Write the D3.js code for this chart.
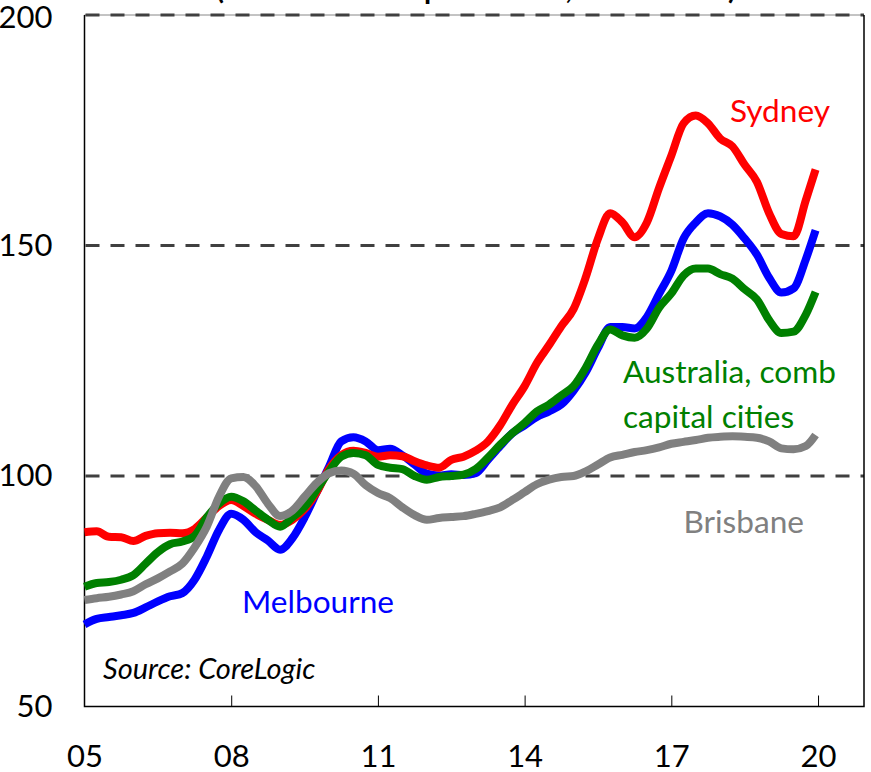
<!DOCTYPE html>
<html>
<head>
<meta charset="utf-8">
<script src="https://cdn.jsdelivr.net/npm/d3@7"></script>
<style>
  html, body { margin: 0; padding: 0; background: #fff; }
  svg { display: block; font-family: Lato, "Open Sans", sans-serif; }
</style>
</head>
<body>
<div id="chart"></div>
<script>
// quarterly observations, decimal years
const dates = [
  2005.00, 2005.25, 2005.50, 2005.75, 2006.00, 2006.25, 2006.50, 2006.75,
  2007.00, 2007.25, 2007.50, 2007.75, 2008.00, 2008.25, 2008.50, 2008.75,
  2009.00, 2009.25, 2009.50, 2009.75, 2010.00, 2010.25, 2010.50, 2010.75,
  2011.00, 2011.25, 2011.50, 2011.75, 2012.00, 2012.25, 2012.50, 2012.75,
  2013.00, 2013.25, 2013.50, 2013.75, 2014.00, 2014.25, 2014.50, 2014.75,
  2015.00, 2015.25, 2015.50, 2015.75, 2016.00, 2016.25, 2016.50, 2016.75,
  2017.00, 2017.25, 2017.50, 2017.75, 2018.00, 2018.25, 2018.50, 2018.75,
  2019.00, 2019.25, 2019.50, 2019.75, 2019.95
];

const sydney = [
  87.8, 88.0, 86.8, 86.7, 85.9, 87.0, 87.6, 87.7,
  87.6, 88.5, 91.0, 93.5, 94.8, 93.5, 91.8, 90.5,
  89.4, 90.5, 92.8, 96.5, 101.5, 104.5, 105.5, 105.0,
  104.2, 104.5, 104.3, 103.2, 102.3, 101.8, 103.5, 104.2,
  105.5, 107.5, 111.0, 115.5, 119.5, 124.5, 128.4, 132.5,
  136.2, 143.1, 151.5, 157.0, 155.0, 151.8, 155.0, 162.5,
  169.5, 176.5, 178.2, 176.5, 173.2, 171.5, 167.5, 163.8,
  157.0, 152.5, 152.0, 159.8, 166.5
];

const melbourne = [
  67.8, 69.0, 69.4, 69.8, 70.3, 71.5, 72.8, 73.9,
  74.6, 77.5, 82.5, 88.3, 91.8, 90.5, 87.8, 86.0,
  84.0, 86.5, 91.0, 96.5, 102.0, 107.5, 108.4, 107.5,
  105.6, 105.9, 104.5, 102.5, 100.5, 100.1, 100.4, 100.2,
  100.6, 103.5, 106.5, 109.3, 111.0, 112.8, 114.0, 115.5,
  118.5, 122.5, 127.8, 132.3, 132.3, 132.0, 134.5, 139.5,
  144.5, 151.5, 155.0, 157.0, 156.3, 154.5, 151.5, 148.0,
  143.0, 139.8, 140.7, 147.0, 153.3
];

const australia = [
  76.0, 76.8, 77.0, 77.5, 78.5, 81.0, 83.5, 85.2,
  85.8, 87.0, 91.0, 94.0, 95.5, 94.5, 92.5, 90.5,
  89.0, 91.0, 93.3, 97.0, 101.0, 104.2, 105.0, 104.5,
  102.4, 101.8, 101.5, 100.0, 99.2, 99.8, 100.0, 100.3,
  101.5, 104.0, 106.8, 109.3, 111.5, 114.0, 115.5, 117.5,
  119.5, 123.5, 128.5, 131.8, 130.5, 130.0, 132.0, 136.5,
  139.6, 143.5, 145.0, 145.0, 143.8, 142.8, 140.5, 138.3,
  133.8, 131.0, 131.3, 135.0, 139.9
];

const brisbane = [
  73.1, 73.5, 73.8, 74.3, 75.0, 76.5, 77.8, 79.3,
  81.0, 84.5, 89.0, 95.5, 99.5, 99.8, 97.8, 94.0,
  91.3, 92.5, 95.5, 98.5, 100.6, 101.2, 100.5, 98.0,
  96.3, 95.2, 93.2, 91.5, 90.5, 90.9, 91.1, 91.3,
  91.8, 92.4, 93.2, 94.8, 96.5, 98.2, 99.2, 99.8,
  100.0, 101.0, 102.5, 104.0, 104.6, 105.2, 105.6, 106.2,
  107.0, 107.4, 107.8, 108.3, 108.5, 108.6, 108.5, 108.3,
  107.5, 106.0, 105.8, 106.5, 108.9
];

const yTicks = [50, 100, 150, 200];
const gridValues = [100, 150, 200];
const xTicks = [2005, 2008, 2011, 2014, 2017, 2020];
const xTickLabels = ["05", "08", "11", "14", "17", "20"];

// drawing order: first is at the bottom
const series = [
  { name: "Melbourne", values: melbourne, color: "#0000ff" },
  { name: "Sydney", values: sydney, color: "#ff0000" },
  { name: "Australia", values: australia, color: "#008000" },
  { name: "Brisbane", values: brisbane, color: "#808080" }
];

const width = 871, height = 772;
const svg = d3.select("#chart").append("svg")
  .attr("width", width)
  .attr("height", height);

const x = d3.scaleLinear().domain([2005, 2020.94]).range([84.5, 864]);
const y = d3.scaleLinear().domain([50, 200]).range([706.5, 15]);

// title, mostly above the visible area as in the source image
svg.append("text")
  .attr("x", 476)
  .attr("y", -1)
  .attr("text-anchor", "middle")
  .style("font-weight", "bold")
  .style("font-size", "29px")
  .text("(Nominal house price index, 2010 = 100)");

// top border (thin) under the 200 grid line
svg.append("line")
  .attr("x1", x.range()[0]).attr("x2", x.range()[1])
  .attr("y1", y(200)).attr("y2", y(200))
  .attr("stroke", "#888").attr("stroke-width", 1);

// dashed horizontal grid lines
svg.append("g")
  .selectAll("line")
  .data(gridValues)
  .enter()
  .append("line")
  .attr("x1", x.range()[0] + 1)
  .attr("x2", x.range()[1])
  .attr("y1", d => y(d))
  .attr("y2", d => y(d))
  .attr("stroke", "#404040")
  .attr("stroke-width", 3)
  .attr("stroke-dasharray", "14,11");

// frame: left, bottom, right
svg.append("path")
  .attr("d", `M${x.range()[0]},${y(200)}V${y(50)}H${x.range()[1]}V${y(200)}`)
  .attr("fill", "none")
  .attr("stroke", "#000")
  .attr("stroke-width", 1.5);

// bottom axis with ticks pointing inward
const xAxis = svg.append("g")
  .attr("transform", `translate(0,${y(50)})`)
  .call(d3.axisBottom(x)
    .tickValues(xTicks)
    .tickSize(-11)
    .tickFormat((d, i) => xTickLabels[i]));
xAxis.select(".domain").remove();
xAxis.selectAll(".tick line")
  .attr("stroke", "#000")
  .attr("stroke-width", 1)
  .filter(d => d === 2005).remove();
xAxis.selectAll(".tick text")
  .attr("y", 0)
  .attr("dy", 0)
  .attr("transform", "translate(0,60)")
  .style("font-family", "Lato, sans-serif")
  .style("font-size", "31px")
  .attr("fill", "#000");

// left axis labels only
const yAxis = svg.append("g")
  .attr("transform", `translate(${x.range()[0]},0)`)
  .call(d3.axisLeft(y).tickValues(yTicks).tickSize(0).tickPadding(32));
yAxis.select(".domain").remove();
yAxis.selectAll(".tick text")
  .style("font-family", "Lato, sans-serif")
  .style("font-size", "31px")
  .attr("fill", "#000")
  .filter(d => d === 200)
  .attr("dy", "0.32em")
  .attr("y", 3);

// series lines
const line = d3.line()
  .x((d, i) => x(dates[i]))
  .y(d => y(d))
  .curve(d3.curveMonotoneX);

svg.append("g")
  .selectAll("path")
  .data(series)
  .enter()
  .append("path")
  .attr("d", d => line(d.values))
  .attr("fill", "none")
  .attr("stroke", d => d.color)
  .attr("stroke-width", 8)
  .attr("stroke-linejoin", "round")
  .attr("stroke-linecap", "butt");

// direct labels
const labels = [
  { lines: ["Sydney"], x: 830, y: 122, anchor: "end", color: "#ff0000" },
  { lines: ["Australia, comb", "capital cities"], x: 623, y: 383, anchor: "start", color: "#008000" },
  { lines: ["Brisbane"], x: 804, y: 533, anchor: "end", color: "#808080" },
  { lines: ["Melbourne"], x: 242, y: 613, anchor: "start", color: "#0000ff" }
];

labels.forEach(l => {
  const t = svg.append("text")
    .attr("x", l.x)
    .attr("y", l.y)
    .attr("text-anchor", l.anchor)
    .attr("fill", l.color)
    .style("font-size", "31.6px");
  l.lines.forEach((s, i) => {
    t.append("tspan")
      .attr("x", l.x)
      .attr("dy", i === 0 ? 0 : 45)
      .text(s);
  });
});

svg.append("text")
  .attr("x", 103)
  .attr("y", 679)
  .style("font-style", "italic")
  .style("font-size", "29px")
  .attr("fill", "#000")
  .text("Source: CoreLogic");
</script>
</body>
</html>
